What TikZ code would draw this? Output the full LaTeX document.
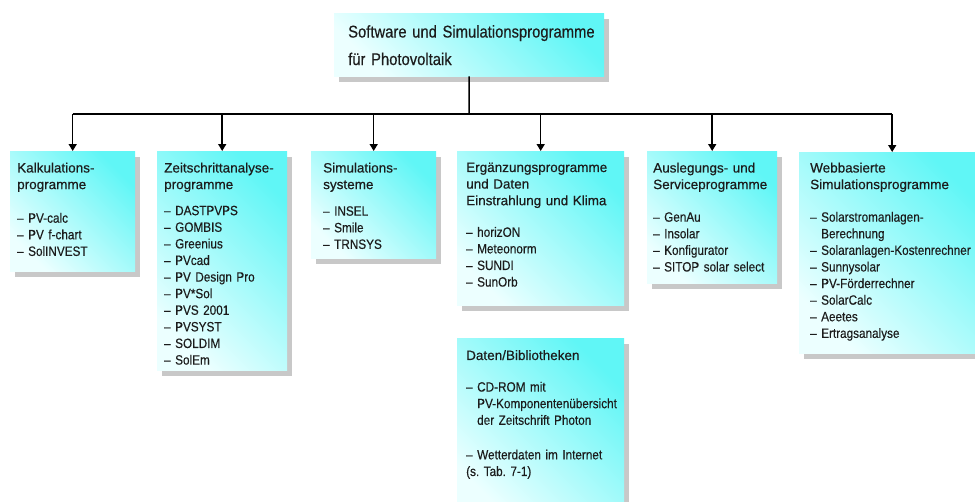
\documentclass[tikz,border=0pt]{standalone}
\usepackage{fontspec}
\setmainfont{Liberation Sans}
\newfontfamily\headfont[FakeBold=0.5]{Liberation Sans}
\newfontfamily\narrowfont[FakeStretch=0.87, FakeBold=0.3]{Liberation Sans}
\newfontfamily\titlefont[FakeStretch=0.87, FakeBold=0.4]{Liberation Sans}
\usetikzlibrary{arrows.meta,shadows}
\frenchspacing

\definecolor{cardpale}{RGB}{236,255,255}
\definecolor{cardcyan}{RGB}{96,246,246}
\definecolor{shadegray}{RGB}{200,200,200}
\definecolor{ink}{RGB}{28,28,28}

\newcommand{\cardhead}{\headfont\fontsize{13.5}{16.6}\selectfont}
\newcommand{\carditem}{\narrowfont\fontsize{13.5}{16.6}\selectfont}
\newcommand{\listdash}{\makebox[11pt][l]{–}}
\newcommand{\listindent}{\hspace*{11pt}}

\begin{document}
\begin{tikzpicture}[
    x=1pt, y=-1pt,
    card/.style={rectangle, inner sep=0pt, anchor=north west,
        left color=cardpale, right color=cardcyan, shading angle=135,
        drop shadow={shadow xshift=5pt, shadow yshift=-6pt,
                     fill=shadegray, opacity=1}},
    cardtext/.style={anchor=north west, inner sep=0pt, text width=175pt,
        align=left, text=ink, font=\cardhead},
    link/.style={draw=black, line width=1.5pt},
    branch/.style={link, -{Triangle[width=8pt, length=7pt]}},
]

% Canvas
\fill[white] (0,0) rectangle (975,501);
\useasboundingbox (0,0) rectangle (975,501);

% Title
\node[card, minimum width=270pt, minimum height=63pt] (title) at (334,13) {};
\node[anchor=north west, inner sep=0pt, text width=260pt, align=left, text=ink,
      font=\titlefont\fontsize{17}{27.5}\selectfont]
      (titletext) at ([shift={(14,12)}]title.north west)
      {Software und Simulationsprogramme\\für Photovoltaik};

% Category boxes
\node[card, minimum width=125pt, minimum height=120pt] (kalk) at (10,151) {};
\node[card, minimum width=130pt, minimum height=219pt] (zeit) at (157,151) {};
\node[card, minimum width=125pt, minimum height=107pt] (simu) at (311,151) {};
\node[card, minimum width=167pt, minimum height=154pt] (ergz) at (457,151) {};
\node[card, minimum width=130pt, minimum height=132pt] (ausl) at (647,151) {};
\node[card, minimum width=186pt, minimum height=201pt] (webb) at (799,152) {};
\node[card, minimum width=167pt, minimum height=180pt] (daten) at (457,338) {};

% Box texts
\node[cardtext] (kalktext) at ([shift={(7,11.5)}]kalk.north west)
    {Kalkulations-\\programme\\[17pt]
     \carditem\listdash PV-calc\\\listdash PV f-chart\\\listdash SolINVEST};
\node[cardtext] (zeittext) at ([shift={(7,11.5)}]zeit.north west)
    {Zeitschrittanalyse-\\programme\\[9.5pt]
     \carditem\listdash DASTPVPS\\\listdash GOMBIS\\\listdash Greenius\\
     \listdash PVcad\\\listdash PV Design Pro\\\listdash PV*Sol\\
     \listdash PVS 2001\\\listdash PVSYST\\\listdash SOLDIM\\\listdash SolEm};
\node[cardtext] (simutext) at ([shift={(12,11.5)}]simu.north west)
    {Simulations-\\systeme\\[10pt]
     \carditem\listdash INSEL\\\listdash Smile\\\listdash TRNSYS};
\node[cardtext] (ergztext) at ([shift={(9,11.5)}]ergz.north west)
    {Ergänzungsprogramme\\und Daten\\Einstrahlung und Klima\\[15pt]
     \carditem\listdash horizON\\\listdash Meteonorm\\\listdash SUNDI\\
     \listdash SunOrb};
\node[cardtext] (ausltext) at ([shift={(6,11.5)}]ausl.north west)
    {Auslegungs- und\\Serviceprogramme\\[16pt]
     \carditem\listdash GenAu\\\listdash Insolar\\\listdash Konfigurator\\
     \listdash SITOP solar select};
\node[cardtext] (webbtext) at ([shift={(11,10.5)}]webb.north west)
    {Webbasierte\\Simulationsprogramme\\[16pt]
     \carditem\listdash Solarstromanlagen-\\\listindent Berechnung\\
     \listdash Solaranlagen-Kostenrechner\\\listdash Sunnysolar\\
     \listdash PV-Förderrechner\\\listdash SolarCalc\\\listdash Aeetes\\
     \listdash Ertragsanalyse};
\node[cardtext] (datentext) at ([shift={(9,12)}]daten.north west)
    {Daten/Bibliotheken\\[15pt]
     \carditem\listdash CD-ROM mit\\\listindent PV-Komponentenübersicht\\
     \listindent der Zeitschrift Photon\\[18pt]
     \listdash Wetterdaten im Internet\\(s. Tab. 7-1)};

% Connectors
\coordinate (hub) at (469,114);
\draw[link] (title.south) -- (hub);
\draw[link] (kalk.north |- hub) -- (webb.north |- hub);
\foreach \card in {kalk,zeit,simu,ergz,ausl,webb}
    \draw[branch] (\card.north |- hub) -- (\card.north);

\end{tikzpicture}
\end{document}
